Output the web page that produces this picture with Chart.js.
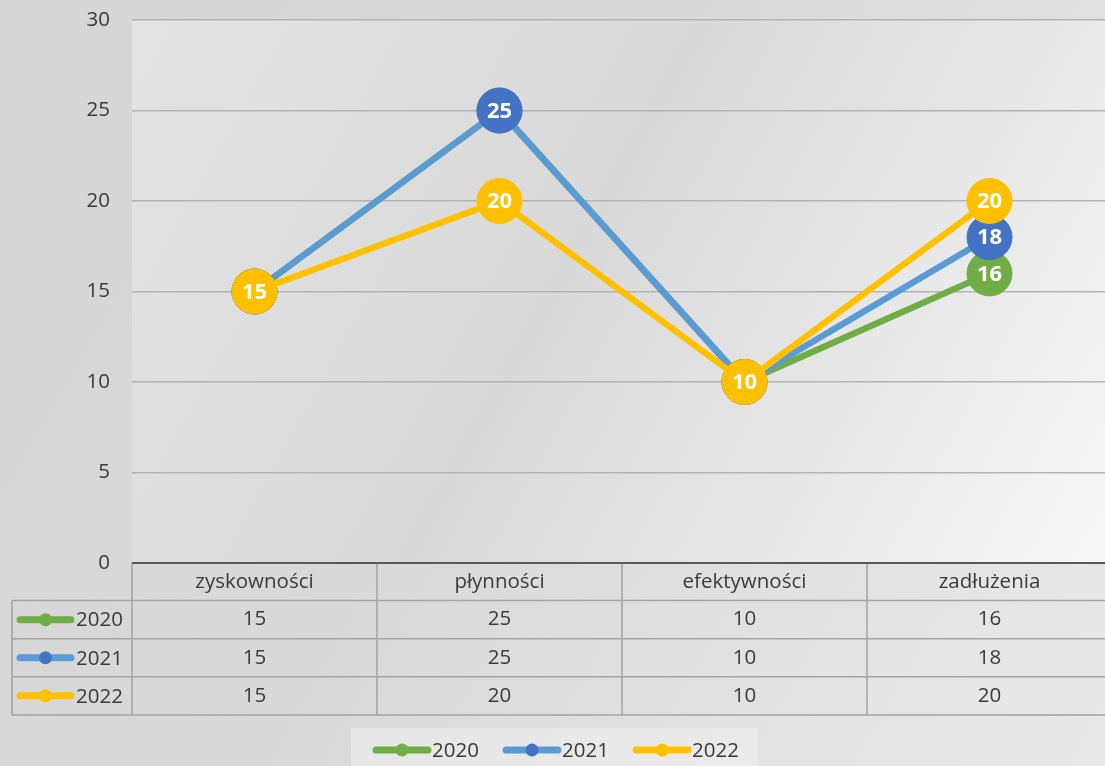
<!DOCTYPE html>
<html>
<head>
<meta charset="utf-8">
<script src="https://cdn.jsdelivr.net/npm/chart.js@4.4.1/dist/chart.umd.min.js"></script>
<style>
  html, body { margin: 0; padding: 0; overflow: hidden; width: 1105px; height: 766px; }
  body { background: linear-gradient(120deg, #d6d6d6 0%, #d9d9d9 45%, #e9e9e9 100%); }
  #wrap { position: relative; width: 1112px; height: 766px; }
</style>
</head>
<body>
<div id="wrap"><canvas id="chart" width="1112" height="766"></canvas></div>
<script>
// dane wykresu
const categories = ['zyskowności', 'płynności', 'efektywności', 'zadłużenia'];
const years = ['2020', '2021', '2022'];
const values2020 = [15, 25, 10, 16];
const values2021 = [15, 25, 10, 18];
const values2022 = [15, 20, 10, 20];
const yMin = 0, yMax = 30, yStep = 5;

const FONT = '"Open Sans", "DejaVu Sans", sans-serif';
const TEXT = '#3a3a3a';

// kolory serii: linia / znacznik
const lineColors   = ['#70AD47', '#5B9BD5', '#FFC000'];
const markerColors = ['#70AD47', '#4472C4', '#FFC000'];
const seriesValues = [values2020, values2021, values2022];

// tło obszaru wykresu
const plotBg = {
  id: 'plotBg',
  beforeDraw(chart) {
    const { ctx, chartArea: a } = chart;
    const g = ctx.createLinearGradient(a.left, a.top, a.right, a.bottom);
    g.addColorStop(0, '#e3e3e3');
    g.addColorStop(0.45, '#d9d9d9');
    g.addColorStop(1, '#f7f7f7');
    ctx.save();
    ctx.fillStyle = g;
    ctx.fillRect(a.left, a.top, a.right - a.left, a.bottom - a.top);
    ctx.restore();
  }
};

// etykiety wartości w znacznikach
const pointLabels = {
  id: 'pointLabels',
  afterDatasetDraw(chart, args) {
    const { ctx } = chart;
    const ds = chart.data.datasets[args.index];
    ctx.save();
    ctx.fillStyle = '#ffffff';
    ctx.font = 'bold 22px ' + FONT;
    ctx.textAlign = 'center';
    ctx.textBaseline = 'middle';
    args.meta.data.forEach((pt, i) => {
      ctx.fillText(String(ds.data[i]), pt.x, pt.y + 1);
    });
    ctx.restore();
  }
};

// tabela danych + legenda pod wykresem
const dataTable = {
  id: 'dataTable',
  afterDraw(chart) {
    const { ctx, chartArea: a } = chart;
    const xs = chart.scales.x;
    const colW = (a.right - a.left) / categories.length;
    const top = a.bottom;
    const headH = 37.6;
    const rowH = 38.1;
    const keyLeft = 12;
    const rowsTop = top + headH;
    const bottom = rowsTop + rowH * years.length;

    ctx.save();
    ctx.strokeStyle = '#a3a3a3';
    ctx.lineWidth = 1.5;

    // linie poziome
    ctx.beginPath();
    for (let r = 0; r <= years.length; r++) {
      const y = rowsTop + r * rowH;
      ctx.moveTo(keyLeft, y);
      ctx.lineTo(a.right, y);
    }
    // linie pionowe
    ctx.moveTo(keyLeft, rowsTop);
    ctx.lineTo(keyLeft, bottom);
    for (let c = 0; c < categories.length; c++) {
      const x = a.left + c * colW;
      ctx.moveTo(x, top);
      ctx.lineTo(x, bottom);
    }
    ctx.stroke();

    // oś X (ciemna linia)
    ctx.strokeStyle = '#595959';
    ctx.lineWidth = 2;
    ctx.beginPath();
    ctx.moveTo(a.left, top);
    ctx.lineTo(a.right, top);
    ctx.stroke();

    ctx.font = '20.5px ' + FONT;
    ctx.fillStyle = TEXT;
    ctx.textBaseline = 'middle';
    ctx.textAlign = 'center';
    categories.forEach((cat, i) => {
      ctx.fillText(cat, xs.getPixelForValue(i), top + headH / 2);
    });
    seriesValues.forEach((vals, r) => {
      const y = rowsTop + r * rowH + rowH / 2;
      vals.forEach((v, i) => ctx.fillText(String(v), xs.getPixelForValue(i), y));
    });

    // klucze serii w tabeli
    function key(x1, x2, y, s) {
      ctx.strokeStyle = lineColors[s];
      ctx.lineWidth = 7;
      ctx.lineCap = 'round';
      ctx.beginPath();
      ctx.moveTo(x1, y);
      ctx.lineTo(x2, y);
      ctx.stroke();
      ctx.fillStyle = markerColors[s];
      ctx.beginPath();
      ctx.arc((x1 + x2) / 2, y, 6.5, 0, Math.PI * 2);
      ctx.fill();
    }
    years.forEach((yr, r) => {
      const y = rowsTop + r * rowH + rowH / 2;
      key(20, 71, y, r);
      ctx.fillStyle = TEXT;
      ctx.textAlign = 'left';
      ctx.fillText(yr, 76, y + 1);
    });

    // legenda
    ctx.fillStyle = 'rgba(240,240,240,0.55)';
    ctx.fillRect(351, 728, 407, 40);
    const legX = [376, 506, 636];
    years.forEach((yr, s) => {
      key(legX[s], legX[s] + 52, 750, s);
      ctx.fillStyle = TEXT;
      ctx.textAlign = 'left';
      ctx.fillText(yr, legX[s] + 56, 751);
    });
    ctx.restore();
  }
};

const datasets = years.map((yr, s) => ({
  label: yr,
  data: seriesValues[s],
  borderColor: lineColors[s],
  backgroundColor: markerColors[s],
  pointBackgroundColor: markerColors[s],
  pointBorderColor: markerColors[s],
  pointBorderWidth: 1,
  pointRadius: 22.5,
  pointHoverRadius: 22.5,
  borderWidth: 6.5,
  borderJoinStyle: 'round',
  borderCapStyle: 'round',
  tension: 0,
  order: years.length - 1 - s
}));

new Chart(document.getElementById('chart'), {
  type: 'line',
  data: { labels: categories, datasets },
  options: {
    responsive: false,
    animation: false,
    events: [],
    clip: false,
    layout: { autoPadding: false, padding: { top: 20, bottom: 203, left: 0, right: 0 } },
    plugins: {
      legend: { display: false },
      tooltip: { enabled: false }
    },
    scales: {
      x: { type: 'category', display: false, offset: true },
      y: {
        min: yMin,
        max: yMax,
        ticks: { stepSize: yStep, color: TEXT, padding: 22, font: { family: FONT, size: 20.5 } },
        grid: {
          drawTicks: false,
          color: c => c.tick.value === 0 ? 'rgba(0,0,0,0)' : '#b2b2b2',
          lineWidth: 1.5
        },
        border: { display: false },
        afterFit(scale) {
          scale.width = 132;
          scale.paddingTop = 0;
          scale.paddingBottom = 0;
        }
      }
    }
  },
  plugins: [plotBg, pointLabels, dataTable]
});
</script>
</body>
</html>
